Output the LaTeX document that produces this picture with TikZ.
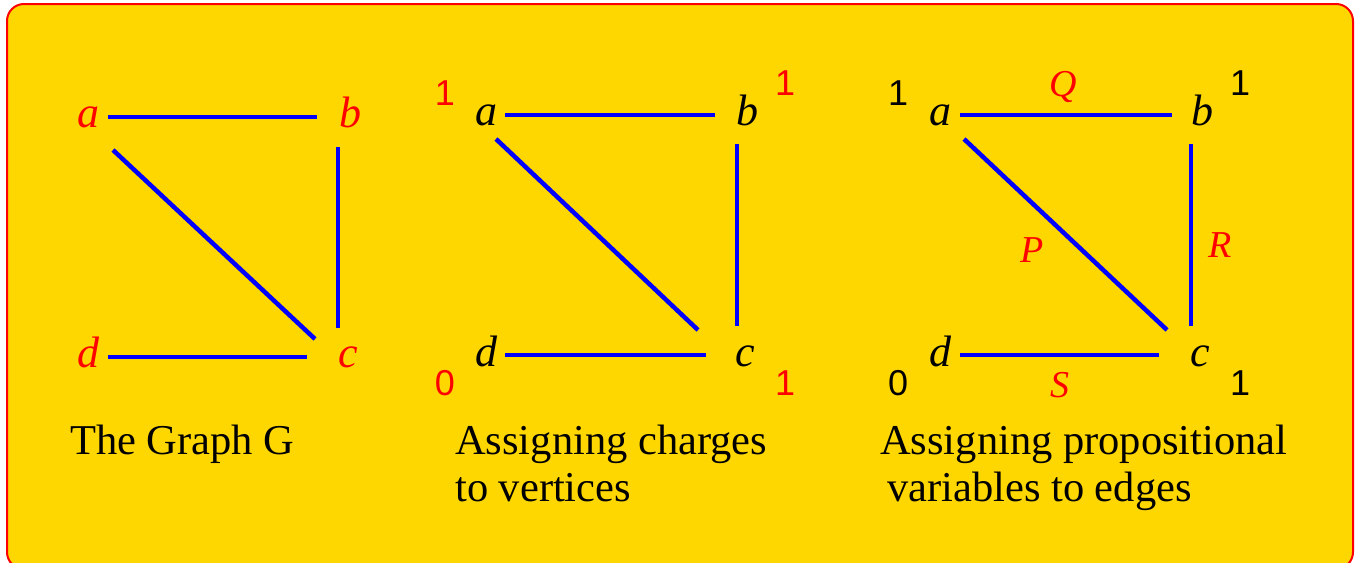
\documentclass[tikz,border=0pt]{standalone}
\usepackage{fontspec}
\setmainfont{Liberation Serif}
\newfontfamily\seriffont{Liberation Serif}
\newfontfamily\numfont{Liberation Sans}
\usetikzlibrary{calc}
\definecolor{goldbg}{RGB}{255,215,0}
\definecolor{framered}{RGB}{255,0,0}
\definecolor{edgeblue}{RGB}{0,0,255}
\tikzset{
  vtx/.style={font=\seriffont\fontsize{44}{44}\selectfont\itshape, inner sep=0pt, text height=20pt, text depth=0pt, anchor=center},
  redvtx/.style={vtx, text=framered},
  edge/.style={draw=edgeblue, line width=4.5pt},
  num/.style={font=\numfont\fontsize{36}{36}\selectfont, inner sep=0pt, anchor=base},
  elab/.style={font=\seriffont\fontsize{38}{38}\selectfont\itshape, text=framered, inner sep=0pt, anchor=base},
  caption/.style={font=\seriffont\fontsize{42.5}{47}\selectfont, inner sep=0pt, anchor=base west},
}
\begin{document}
\begin{tikzpicture}[x=1pt,y=-1pt]
\useasboundingbox (0,0) rectangle (1356,562);
\begin{scope}
  \clip (0,0) rectangle (1356,562);
  \draw[framered, line width=2pt, fill=goldbg, rounded corners=17pt] (7,4) rectangle (1353,569);
\end{scope}

% Panel 1
\node[redvtx] (a1) at (88,117) {a};
\node[redvtx] (b1) at (350,117) {b};
\node[redvtx] (d1) at (88,357) {d};
\node[redvtx] (c1) at (348,357) {c};
\draw[edge] ($(a1)+(20,0)$) -- ($(b1)+(-33,0)$);
\draw[edge] ($(b1)+(-12,30)$) -- ($(c1)+(-10,-29)$);
\draw[edge] ($(a1)+(25,33)$) -- ($(c1)+(-33,-18)$);
\draw[edge] ($(d1)+(20,0)$) -- ($(c1)+(-41,0)$);
\node[caption] (cap1) at (70,454) {The Graph G};

% Panel 2
\node[vtx] (a2) at (486,115) {a};
\node[vtx] (b2) at (747,115) {b};
\node[vtx] (d2) at (486,356) {d};
\node[vtx] (c2) at (745,356) {c};
\draw[edge] ($(a2)+(19,0)$) -- ($(b2)+(-32,0)$);
\draw[edge] ($(b2)+(-10,29)$) -- ($(c2)+(-8,-30)$);
\draw[edge] ($(a2)+(10,24)$) -- ($(c2)+(-47,-26)$);
\draw[edge] ($(d2)+(19,-1)$) -- ($(c2)+(-39,-1)$);
\node[num, text=framered] (na2) at (445,105) {1};
\node[num, text=framered] (nb2) at (785,95) {1};
\node[num, text=framered] (nd2) at (445,395) {0};
\node[num, text=framered] (nc2) at (785,395) {1};
\node[caption] (cap2a) at (455,454) {Assigning charges};
\node[caption] (cap2b) at (455,501) {to vertices};

% Panel 3
\node[vtx] (a3) at (940,115) {a};
\node[vtx] (b3) at (1202,115) {b};
\node[vtx] (d3) at (940,356) {d};
\node[vtx] (c3) at (1200,356) {c};
\draw[edge] ($(a3)+(20,0)$) -- ($(b3)+(-30,0)$);
\draw[edge] ($(b3)+(-11,29)$) -- ($(c3)+(-9,-30)$);
\draw[edge] ($(a3)+(24,24)$) -- ($(c3)+(-33,-26)$);
\draw[edge] ($(d3)+(20,-1)$) -- ($(c3)+(-41,-1)$);
\node[num] (na3) at (898,105) {1};
\node[num] (nb3) at (1240,95) {1};
\node[num] (nd3) at (898,395) {0};
\node[num] (nc3) at (1240,395) {1};
\node[elab] (Q) at (1063,96) {Q};
\node[elab] (P) at (1032,262) {P};
\node[elab] (R) at (1220,257) {R};
\node[elab] (S) at (1060,397) {S};
\node[caption] (cap3a) at (880,454) {Assigning propositional};
\node[caption] (cap3b) at (887,501) {variables to edges};
\end{tikzpicture}
\end{document}
